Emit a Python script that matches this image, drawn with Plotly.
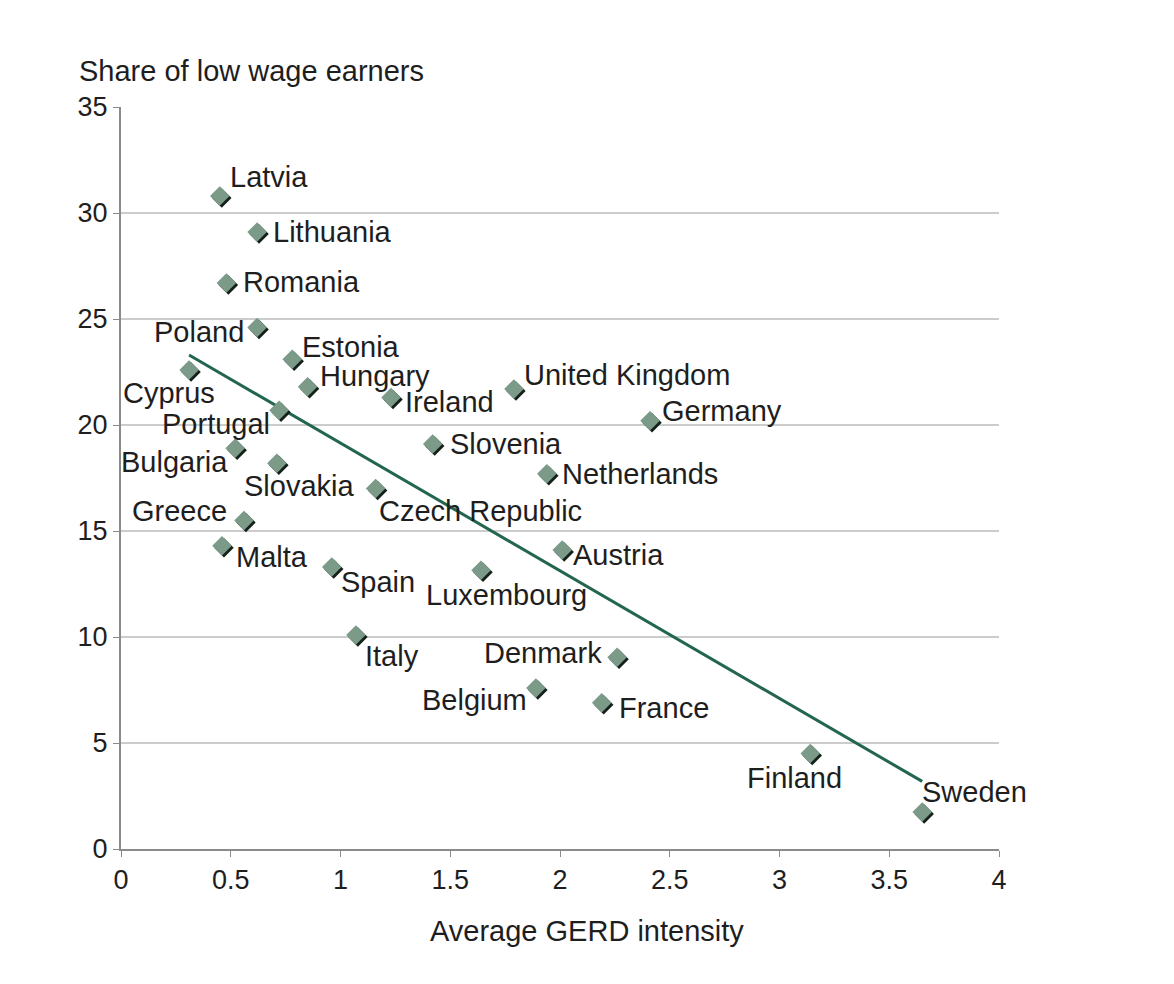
import numpy as np
import plotly.graph_objects as go

countries = ["Latvia", "Lithuania", "Romania", "Poland", "Estonia", "Cyprus", "Hungary",
             "Ireland", "United Kingdom", "Germany", "Portugal", "Slovenia", "Bulgaria",
             "Slovakia", "Netherlands", "Czech Republic", "Greece", "Malta", "Austria",
             "Spain", "Luxembourg", "Italy", "Denmark", "Belgium", "France", "Finland", "Sweden"]
gerd = [0.45, 0.62, 0.48, 0.62, 0.78, 0.31, 0.85, 1.23, 1.79, 2.41, 0.72, 1.42, 0.52,
        0.71, 1.94, 1.16, 0.56, 0.46, 2.01, 0.96, 1.64, 1.07, 2.26, 1.89, 2.19, 3.14, 3.65]
low_wage = [30.8, 29.1, 26.7, 24.6, 23.1, 22.6, 21.8, 21.3, 21.7, 20.2, 20.7, 19.1, 18.9,
            18.2, 17.7, 17.0, 15.5, 14.3, 14.1, 13.3, 13.15, 10.1, 9.05, 7.6, 6.9, 4.5, 1.75]

x_ticks = [0, 0.5, 1, 1.5, 2, 2.5, 3, 3.5, 4]
x_tick_labels = ["0", "0.5", "1", "1.5", "2", "2.5", "3", "3.5", "4"]
y_ticks = [0, 5, 10, 15, 20, 25, 30, 35]

x_title = "Average GERD intensity"
y_title = "Share of low wage earners"

# label placement (pixel offsets): xanchor, xshift, yshift
label_pos = {
    "Latvia": ("left", 8, 19), "Lithuania": ("left", 14, 0), "Romania": ("left", 15, 1),
    "Poland": ("right", -11, -5), "Estonia": ("left", 8, 12), "Cyprus": ("center", -20, -23),
    "Hungary": ("left", 10, 11), "Ireland": ("left", 12, -5), "United Kingdom": ("left", 8, 14),
    "Germany": ("left", 10, 10), "Portugal": ("right", -7, -14), "Slovenia": ("left", 15, 0),
    "Bulgaria": ("right", -5, -14), "Slovakia": ("center", 22, -23),
    "Netherlands": ("left", 13, 0), "Czech Republic": ("left", 1, -22),
    "Greece": ("right", -15, 9), "Malta": ("left", 12, -11), "Austria": ("left", 9, -5),
    "Spain": ("left", 7, -15), "Luxembourg": ("center", 26, -25), "Italy": ("left", 7, -21),
    "Denmark": ("right", -13, 4), "Belgium": ("right", -7, -12), "France": ("left", 15, -5),
    "Finland": ("center", -16, -24), "Sweden": ("left", -2, 20),
}

FONT = "Liberation Sans, Arial, Helvetica, sans-serif"
FS = 29
FS_TICK = 27
TXT = "#1e1e1e"

X0, X1 = 0, 4
Y0, Y1 = 0, 35
PW = 878   # plot width px
PH = 742   # plot height px
sx = 2 * (X1 - X0) / PW
sy = 2 * (Y1 - Y0) / PH

# linear trend
coef = np.polyfit(gerd, low_wage, 1)
tx = np.array([min(gerd), max(gerd)])
ty = np.polyval(coef, tx)

fig = go.Figure()
fig.add_trace(go.Scatter(x=tx, y=ty, mode="lines",
                         line=dict(color="#226650", width=3), showlegend=False))
# shadow markers (offset via overlaid axes)
fig.add_trace(go.Scatter(x=gerd, y=low_wage, mode="markers", xaxis="x2", yaxis="y2",
                         marker=dict(symbol="diamond", size=15, color="#14201a"),
                         hoverinfo="skip", showlegend=False))
fig.add_trace(go.Scatter(x=gerd, y=low_wage, mode="markers", xaxis="x3", yaxis="y3",
                         marker=dict(symbol="diamond", size=15, color="#7b9a88",
                                     line=dict(width=0)),
                         text=countries, showlegend=False))

for c, xv, yv in zip(countries, gerd, low_wage):
    anc, dx, dy = label_pos[c]
    fig.add_annotation(x=xv, y=yv, text=c, showarrow=False, xanchor=anc, yanchor="middle",
                       xshift=dx, yshift=dy, font=dict(family=FONT, size=FS, color=TXT))

fig.add_annotation(xref="paper", yref="paper", x=-0.05, y=1.0, yshift=36, text=y_title,
                   showarrow=False, xanchor="left", yanchor="middle",
                   font=dict(family=FONT, size=FS, color=TXT))
fig.add_annotation(xref="paper", yref="paper", x=0.5, y=0.0, xshift=27, yshift=-82, text=x_title,
                   showarrow=False, xanchor="center", yanchor="middle",
                   font=dict(family=FONT, size=FS, color=TXT))

fig.update_layout(
    width=1174, height=984,
    margin=dict(l=121, r=175, t=107, b=135),
    paper_bgcolor="white", plot_bgcolor="white",
    font=dict(family=FONT, size=FS_TICK, color=TXT),
    xaxis=dict(range=[X0, X1], tickvals=x_ticks, ticktext=x_tick_labels, showgrid=False,
               zeroline=False, showline=True, linecolor="#8a8a8a", linewidth=2,
               ticks="outside", ticklen=6, tickcolor="#8a8a8a"),
    yaxis=dict(range=[Y0, Y1], tickvals=y_ticks, showgrid=True, gridcolor="#cccccc", gridwidth=2,
               zeroline=False, showline=True, linecolor="#8a8a8a", linewidth=2,
               ticks="outside", ticklen=6, tickcolor="#8a8a8a"),
    xaxis2=dict(range=[X0 - sx, X1 - sx], overlaying="x", visible=False),
    yaxis2=dict(range=[Y0 + sy, Y1 + sy], overlaying="y", visible=False),
    xaxis3=dict(range=[X0, X1], overlaying="x", visible=False),
    yaxis3=dict(range=[Y0, Y1], overlaying="y", visible=False),
)

fig.write_html("out.html")
